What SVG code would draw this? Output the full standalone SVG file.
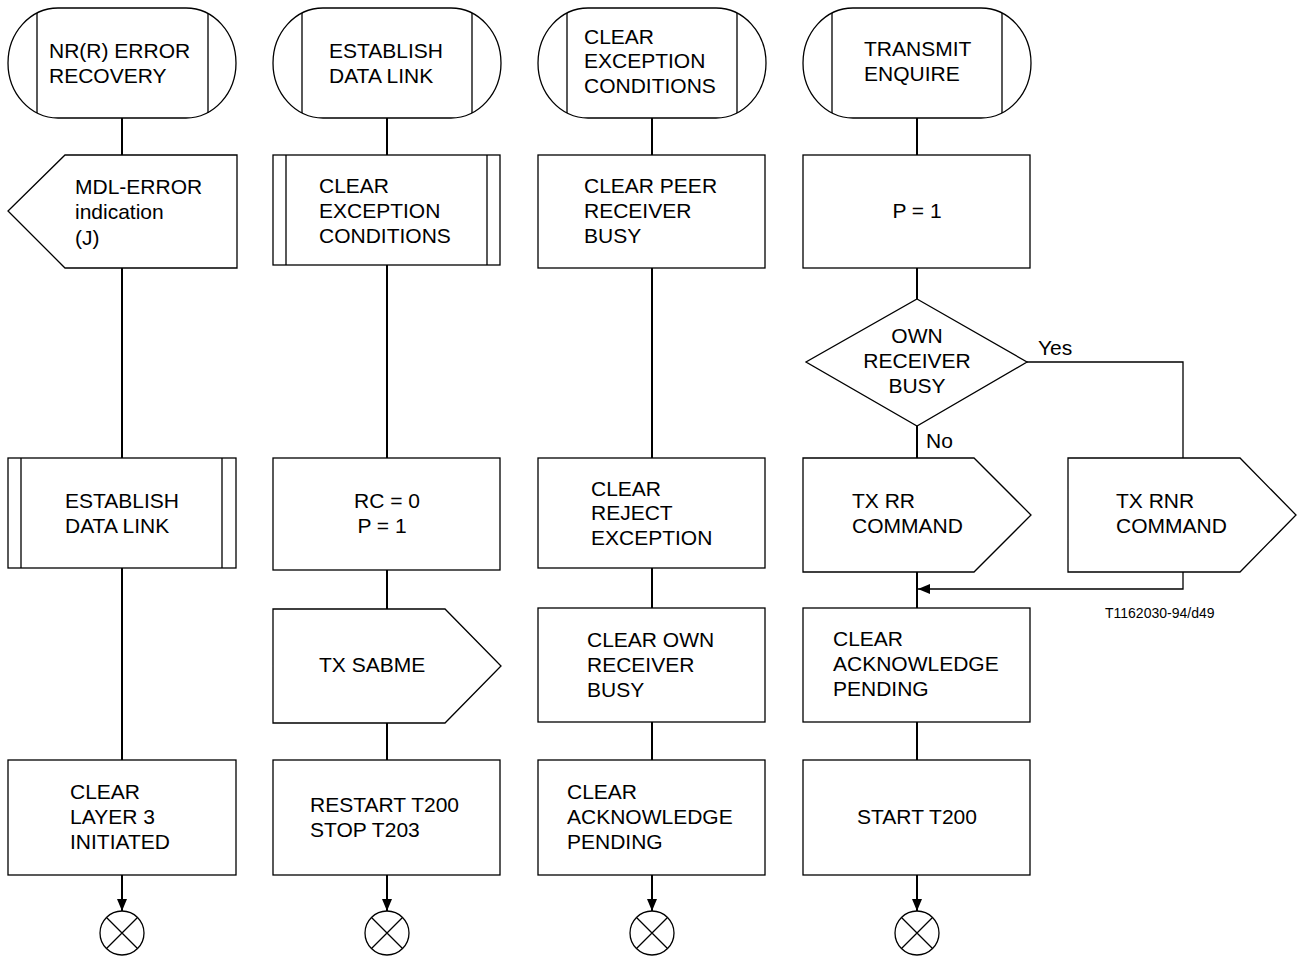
<svg xmlns="http://www.w3.org/2000/svg" width="1300" height="957" viewBox="0 0 1300 957">
<style>
.s{fill:#fff;stroke:#000;stroke-width:1.3}
.l{fill:none;stroke:#000;stroke-width:1.3}
.c{fill:none;stroke:#000;stroke-width:2}
text{font-family:"Liberation Sans",Arial,sans-serif;font-size:21px;fill:#000}
.m{text-anchor:middle}
.sm{font-size:14px}
</style>
<defs>
<marker id="ah" viewBox="0 0 12 10" refX="12" refY="5" markerWidth="12" markerHeight="10" markerUnits="userSpaceOnUse" orient="auto">
<path d="M0,0 L12,5 L0,10 Z" fill="#000"/>
</marker>
</defs>
<rect width="1300" height="957" fill="#fff"/>
<g id="connectors">
<path class="c" d="M122,118 V155 M122,268 V458 M122,568 V760"/>
<path class="c" d="M122,875 V911" marker-end="url(#ah)"/>
<path class="c" d="M387,118 V155 M387,265 V458 M387,570 V609 M387,723 V760"/>
<path class="c" d="M387,875 V911" marker-end="url(#ah)"/>
<path class="c" d="M652,118 V155 M652,268 V458 M652,568 V608 M652,722 V760"/>
<path class="c" d="M652,875 V911" marker-end="url(#ah)"/>
<path class="c" d="M917,118 V155 M917,268 V299 M917,426 V458 M917,572 V608 M917,722 V760"/>
<path class="c" d="M917,875 V911" marker-end="url(#ah)"/>
<path class="l" d="M1027,362 H1183 V458"/>
<path class="l" d="M1183,572 V589 H918" marker-end="url(#ah)"/>
<text x="1038" y="355">Yes</text>
<text x="926" y="448">No</text>
</g>
<g id="start1">
<rect class="s" x="8" y="8" width="228" height="110" rx="50" ry="55"/>
<path class="l" d="M37,13 V113 M208,13 V113"/>
<text x="49" y="58">NR(R) ERROR</text><text x="49" y="83">RECOVERY</text>
</g>
<g id="start2">
<rect class="s" x="273" y="8" width="228" height="110" rx="50" ry="55"/>
<path class="l" d="M302,13 V113 M472,13 V113"/>
<text x="329" y="58">ESTABLISH</text><text x="329" y="83">DATA LINK</text>
</g>
<g id="start3">
<rect class="s" x="538" y="8" width="228" height="110" rx="50" ry="55"/>
<path class="l" d="M567,13 V113 M737,13 V113"/>
<text x="584" y="44">CLEAR</text><text x="584" y="68">EXCEPTION</text><text x="584" y="93">CONDITIONS</text>
</g>
<g id="start4">
<rect class="s" x="803" y="8" width="228" height="110" rx="50" ry="55"/>
<path class="l" d="M832,13 V113 M1002,13 V113"/>
<text x="864" y="56">TRANSMIT</text><text x="864" y="81">ENQUIRE</text>
</g>
<g id="mdlError">
<path class="s" d="M65,155 H237 V268 H65 L8,211 Z"/>
<text x="75" y="194">MDL-ERROR</text><text x="75" y="219">indication</text><text x="75" y="245">(J)</text>
</g>
<g id="establish1">
<rect class="s" x="8" y="458" width="228" height="110"/>
<path class="l" d="M21,458 V568 M222,458 V568"/>
<text x="65" y="508">ESTABLISH</text><text x="65" y="533">DATA LINK</text>
</g>
<g id="clearLayer3">
<rect class="s" x="8" y="760" width="228" height="115"/>
<text x="70" y="799">CLEAR</text><text x="70" y="824">LAYER 3</text><text x="70" y="849">INITIATED</text>
</g>
<g id="clearExc2">
<rect class="s" x="273" y="155" width="227" height="110"/>
<path class="l" d="M286,155 V265 M487,155 V265"/>
<text x="319" y="193">CLEAR</text><text x="319" y="218">EXCEPTION</text><text x="319" y="243">CONDITIONS</text>
</g>
<g id="rc0">
<rect class="s" x="273" y="458" width="227" height="112"/>
<text class="m" x="387" y="508">RC = 0</text><text class="m" x="382" y="533">P = 1</text>
</g>
<g id="txSabme">
<path class="s" d="M273,609 H445 L501,666 L445,723 H273 Z"/>
<text x="319" y="672">TX SABME</text>
</g>
<g id="restart">
<rect class="s" x="273" y="760" width="227" height="115"/>
<text x="310" y="812">RESTART T200</text><text x="310" y="837">STOP T203</text>
</g>
<g id="clearPeer">
<rect class="s" x="538" y="155" width="227" height="113"/>
<text x="584" y="193">CLEAR PEER</text><text x="584" y="218">RECEIVER</text><text x="584" y="243">BUSY</text>
</g>
<g id="clearReject">
<rect class="s" x="538" y="458" width="227" height="110"/>
<text x="591" y="496">CLEAR</text><text x="591" y="520">REJECT</text><text x="591" y="545">EXCEPTION</text>
</g>
<g id="clearOwn">
<rect class="s" x="538" y="608" width="227" height="114"/>
<text x="587" y="647">CLEAR OWN</text><text x="587" y="672">RECEIVER</text><text x="587" y="697">BUSY</text>
</g>
<g id="clearAck3">
<rect class="s" x="538" y="760" width="227" height="115"/>
<text x="567" y="799">CLEAR</text><text x="567" y="824">ACKNOWLEDGE</text><text x="567" y="849">PENDING</text>
</g>
<g id="p1">
<rect class="s" x="803" y="155" width="227" height="113"/>
<text class="m" x="917" y="218">P = 1</text>
</g>
<g id="ownBusy">
<path class="s" d="M917,299 L1027,362 L917,426 L806,362 Z"/>
<text class="m" x="917" y="343">OWN</text><text class="m" x="917" y="368">RECEIVER</text><text class="m" x="917" y="393">BUSY</text>
</g>
<g id="txRR">
<path class="s" d="M803,458 H974 L1031,515 L974,572 H803 Z"/>
<text x="852" y="508">TX RR</text><text x="852" y="533">COMMAND</text>
</g>
<g id="txRNR">
<path class="s" d="M1068,458 H1240 L1296,515 L1240,572 H1068 Z"/>
<text x="1116" y="508">TX RNR</text><text x="1116" y="533">COMMAND</text>
</g>
<g id="clearAck4">
<rect class="s" x="803" y="608" width="227" height="114"/>
<text x="833" y="646">CLEAR</text><text x="833" y="671">ACKNOWLEDGE</text><text x="833" y="696">PENDING</text>
</g>
<g id="startT200">
<rect class="s" x="803" y="760" width="227" height="115"/>
<text class="m" x="917" y="824">START T200</text>
</g>
<g id="end1"><circle class="s" cx="122" cy="933" r="22"/><path class="l" d="M106.5,917.5 L137.5,948.5 M137.5,917.5 L106.5,948.5"/></g>
<g id="end2"><circle class="s" cx="387" cy="933" r="22"/><path class="l" d="M371.5,917.5 L402.5,948.5 M402.5,917.5 L371.5,948.5"/></g>
<g id="end3"><circle class="s" cx="652" cy="933" r="22"/><path class="l" d="M636.5,917.5 L667.5,948.5 M667.5,917.5 L636.5,948.5"/></g>
<g id="end4"><circle class="s" cx="917" cy="933" r="22"/><path class="l" d="M901.5,917.5 L932.5,948.5 M932.5,917.5 L901.5,948.5"/></g>
<text class="sm" x="1105" y="618">T1162030-94/d49</text>
</svg>
